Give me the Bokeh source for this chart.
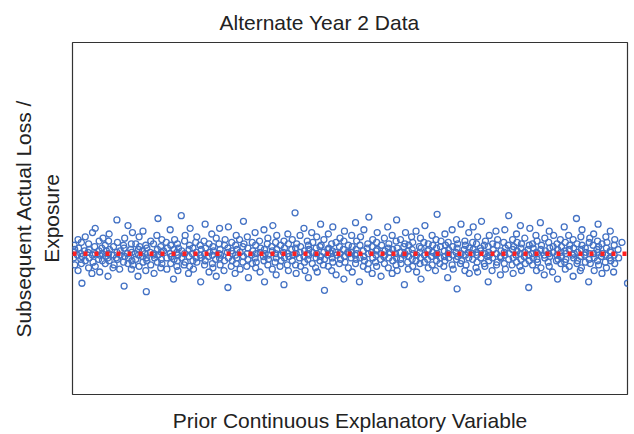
from bokeh.plotting import figure
from bokeh.models import Range1d, FixedTicker
from bokeh.embed import file_html
from bokeh.resources import INLINE

title_text = "Alternate Year 2 Data"
x_label = "Prior Continuous Explanatory Variable"
y_label = "Subsequent Actual Loss /\nExposure"

# Prior continuous explanatory variable (arbitrary scale 0-1000)
x_vals = [
    2,2,3,4,4,9,10,10,11,15,15,16,16,17,17,22,23,23,28,29,29,30,30,35,36,36,37,40,41,41,41,47,48,48,49,49,53,54,54,55,
    59,59,60,61,64,64,65,65,66,66,67,73,74,74,75,79,80,80,81,81,85,86,86,92,92,93,93,94,94,99,100,100,101,105,106,106,107,107,108,109,
    113,114,114,118,119,119,120,120,121,126,126,127,127,131,132,132,133,133,134,134,140,141,141,146,146,147,147,148,152,153,153,154,154,159,159,160,160,161,161,164,
    169,170,170,171,176,176,177,177,178,182,183,183,184,188,188,189,189,190,190,191,196,197,197,201,202,202,203,203,209,210,210,211,211,212,216,217,217,218,222,223,
    223,224,224,230,230,231,232,232,237,238,238,239,239,240,245,246,246,247,251,252,252,253,253,254,258,259,259,264,264,265,265,266,266,267,273,274,274,275,279,280,
    280,281,281,286,287,287,288,288,293,294,294,295,295,296,296,301,302,302,307,307,308,308,309,314,315,315,316,316,317,323,324,324,325,329,329,330,330,331,331,337,
    338,338,339,344,345,345,346,346,347,351,352,352,353,353,359,360,360,361,365,366,366,367,367,368,368,374,375,375,376,380,381,381,382,382,387,388,388,389,389,390,
    395,396,396,397,401,402,402,403,403,404,409,410,410,411,411,417,417,418,418,419,423,424,424,425,425,426,426,431,432,432,433,438,439,439,440,440,441,446,446,447,
    447,448,452,453,453,454,454,460,460,461,461,462,466,467,467,468,468,469,469,474,475,475,476,481,481,482,482,483,488,489,489,490,490,491,496,497,497,498,502,503,
    503,504,504,509,510,510,511,511,512,512,517,518,518,519,524,524,525,525,526,531,532,532,533,533,534,539,540,540,541,541,546,547,547,548,548,549,549,555,556,556,
    557,561,562,562,563,563,568,569,569,570,570,571,576,576,577,577,582,583,583,584,584,585,585,590,591,591,592,597,598,598,599,599,600,604,605,605,606,606,611,612,
    612,613,613,614,619,619,620,620,625,626,626,627,627,628,628,633,634,634,635,640,640,641,641,642,647,648,648,649,649,654,655,655,656,656,657,657,662,663,663,664,
    669,670,670,671,671,672,676,677,677,678,678,684,684,685,685,686,691,692,692,693,693,694,694,699,700,700,701,706,707,707,708,708,709,713,714,714,715,715,720,721,
    721,722,722,727,728,728,729,729,730,730,735,736,736,737,742,742,743,743,744,748,749,749,750,750,751,751,756,757,757,758,763,764,764,765,765,766,771,771,772,772,
    777,778,778,779,779,780,780,785,786,786,787,792,793,793,794,794,795,799,800,800,801,801,806,807,807,808,808,809,809,814,815,815,816,821,822,822,823,823,824,828,
    829,829,830,830,835,836,836,837,837,838,838,843,844,844,845,850,850,851,851,852,857,858,858,859,859,860,860,865,866,866,867,872,873,873,874,874,875,879,880,880,
    881,881,886,887,887,888,888,889,889,894,895,895,896,901,902,902,903,903,904,908,909,909,910,910,915,916,916,917,917,918,918,923,924,924,925,930,931,931,932,932,
    933,938,939,939,940,940,945,946,946,947,947,948,948,953,954,954,955,960,961,961,962,962,963,968,969,969,970,970,975,976,976,977,977,983,984,990,1000,
]

# Subsequent actual loss / exposure (percent of expected)
y_vals = [
    101,97,106,92,103,99,110,88,104,96,100,93,108,79,98,102,112,95,101,90,107,97,103,86,115,99,94,105,100,91,118,96,102,109,87,99,104,95,100,111,
    93,106,98,102,84,97,109,100,95,114,103,90,99,105,92,97,101,124,108,96,89,102,99,106,94,77,104,98,111,100,93,120,97,103,89,107,95,101,115,92,
    100,107,96,84,103,99,112,91,105,98,102,94,116,100,88,106,97,73,104,95,101,109,92,99,107,86,100,97,113,103,94,125,99,90,105,101,96,110,93,102,
    108,89,97,104,100,117,93,106,98,82,103,96,110,91,101,95,107,99,88,104,127,97,102,92,109,100,94,113,86,103,98,106,91,118,100,95,104,89,108,97,
    101,112,94,99,106,80,103,97,109,92,100,121,95,104,98,87,107,101,114,93,99,105,90,102,96,111,84,100,107,97,118,92,103,99,88,106,95,110,101,76,
    104,97,119,91,102,108,95,100,86,106,99,113,93,103,97,110,89,101,105,94,123,98,107,91,100,112,96,104,83,99,108,93,102,115,97,90,106,100,94,109,
    101,87,104,98,117,95,103,80,100,107,92,111,99,96,105,89,102,120,94,100,108,85,97,103,113,91,99,106,95,101,78,109,97,104,92,114,100,88,107,98,
    103,95,110,99,129,92,104,100,86,107,97,113,101,91,105,98,118,94,102,88,109,100,96,106,83,103,99,115,93,101,108,90,104,97,112,100,87,105,95,121,
    98,106,92,101,110,96,74,103,99,114,91,104,100,88,107,97,102,119,94,101,85,108,99,105,93,111,100,96,103,82,109,98,116,94,101,106,90,100,97,113,
    101,87,105,99,122,93,103,96,109,100,80,106,97,112,91,102,98,117,95,104,89,107,100,93,126,101,86,105,97,110,94,102,99,108,91,103,115,96,100,84,
    106,98,111,93,102,99,119,90,104,97,107,101,86,113,95,103,100,92,109,97,124,104,88,101,96,110,93,105,99,78,107,100,115,94,102,89,106,98,112,96,
    103,91,108,100,95,116,99,87,105,101,93,111,97,104,82,108,99,94,120,102,96,107,90,103,98,113,92,101,106,88,99,110,95,104,100,128,93,105,97,109,
    91,102,98,114,95,106,83,100,108,97,103,92,117,99,105,89,101,96,110,75,104,98,107,93,121,100,95,103,88,109,99,106,92,101,115,97,104,86,100,108,
    96,103,119,90,101,107,94,99,112,87,104,97,102,123,93,106,100,91,109,98,80,105,101,95,113,99,88,107,97,103,116,92,100,106,94,110,98,85,102,97,
    108,101,93,117,99,104,89,106,96,127,100,92,110,103,97,86,105,99,114,94,102,108,91,100,120,96,104,88,107,98,101,111,93,103,76,99,106,95,118,100,
    92,107,97,104,113,88,101,96,109,100,94,122,103,90,106,99,85,111,97,102,94,108,100,116,91,104,98,87,105,101,113,95,99,107,82,103,96,110,93,101,
    105,98,119,94,102,89,108,100,96,113,103,91,106,99,84,110,97,104,100,125,93,107,95,101,88,112,98,103,90,106,117,99,94,104,101,80,108,96,111,100,
    93,106,100,114,97,88,103,109,95,101,121,92,105,98,86,107,100,94,112,99,104,90,108,97,102,116,95,101,87,106,99,110,93,103,97,108,79,
]

# Fitted (flat) line
fit_x = [0, 1000]
fit_y = [100, 100]

n = min(len(x_vals), len(y_vals))
x_vals = x_vals[:n]
y_vals = y_vals[:n]

FONT = "Liberation Sans"
TEXT_COLOR = "#222222"

p = figure(width=634, height=434, output_backend="svg", toolbar_location=None,
           x_range=Range1d(0, 1000), y_range=Range1d(0, 250),
           min_border_left=72, min_border_right=7, min_border_top=42, min_border_bottom=36)

p.title.text = title_text
p.title.align = "left"
p.title.offset = 147
p.title.text_font = FONT
p.title.text_font_size = "21px"
p.title.text_font_style = "normal"
p.title.text_color = TEXT_COLOR
p.title.text_line_height = 0.7
p.title.standoff = 17

p.grid.visible = False
p.background_fill_color = "white"
p.border_fill_color = "white"
p.outline_line_color = "#333333"
p.outline_line_width = 1.2

for ax in (p.xaxis[0], p.yaxis[0]):
    ax.ticker = FixedTicker(ticks=[])
    ax.major_tick_line_color = None
    ax.minor_tick_line_color = None
    ax.axis_line_color = None
    ax.axis_label_text_font = FONT
    ax.axis_label_text_font_size = "21px"
    ax.axis_label_text_font_style = "normal"
    ax.axis_label_text_color = TEXT_COLOR
    ax.major_label_standoff = 0

p.xaxis.axis_label = x_label
p.xaxis.axis_label_standoff = 14
p.xaxis.axis_label_text_line_height = 0.8
p.yaxis.axis_label = y_label
p.yaxis.axis_label_standoff = 10

p.scatter(x_vals, y_vals, marker="circle", size=6, fill_color=None,
          line_color="#4472C4", line_width=1.3)
p.line(fit_x, fit_y, line_color="#FF2020", line_width=4.5,
       line_dash="4 7")

open("out.html", "w").write(file_html(p, INLINE))
